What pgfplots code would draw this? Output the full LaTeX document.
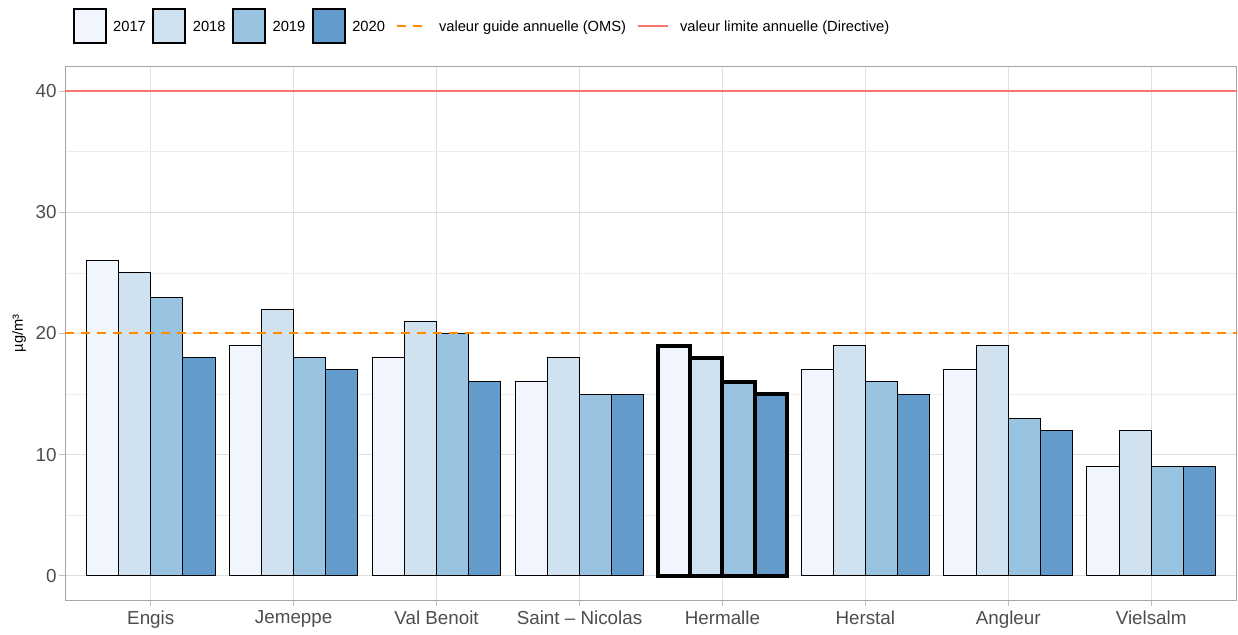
\documentclass[border=0pt]{standalone}
\usepackage{pgfplots}
\pgfplotsset{compat=1.18}
\usepackage{fontspec}
\setmainfont{Liberation Sans}
\definecolor{c17}{HTML}{F1F5FD}
\definecolor{c18}{HTML}{D0E2EF}
\definecolor{c19}{HTML}{98C4E2}
\definecolor{c20}{HTML}{639BCA}
\definecolor{guide}{HTML}{FF8C00}
\definecolor{limit}{HTML}{F8766D}
\definecolor{tickgray}{HTML}{4D4D4D}
\begin{document}
\begin{tikzpicture}
\useasboundingbox (-65pt,-34pt) rectangle (1173pt,600pt);
\begin{axis}[
  at={(0,0)}, anchor=south west,
  scale only axis, width=1172pt, height=533pt,
  xmin=0.4, xmax=8.6, ymin=-2, ymax=42,
  xtick={1,...,8},
  xticklabels={Engis, Jemeppe, Val Benoit, Saint – Nicolas, Hermalle, Herstal, Angleur, Vielsalm},
  ytick={0,10,20,30,40},
  minor ytick={5,15,25,35},
  minor tick length=0pt,
  major tick length=6pt,
  tick align=outside,
  tick pos=left,
  tick style={color=black!25, line width=1pt},
  xmajorgrids, ymajorgrids, yminorgrids,
  major grid style={color=black!12, line width=1pt},
  minor grid style={color=black!7, line width=0.6pt},
  axis line style={color=black!35, line width=1pt},
  /pgf/number format/assume math mode=true,
  tick label style={font=\fontsize{18.8}{18.8}\selectfont, color=tickgray},
  xticklabel style={yshift=-1pt},
  yticklabel style={xshift=1pt},
  ylabel={µg/m³},
  every axis y label/.style={at={(axis description cs:-0.0392,0.5)}, rotate=90, anchor=center, font=\fontsize{14.7}{14.7}\selectfont},
  legend columns=-1,
  legend style={at={(axis description cs:0,1)}, anchor=west, xshift=1pt, yshift=41pt,
    draw=none, fill=none, inner sep=0pt, font=\fontsize{14.7}{14.7}\selectfont,
    nodes={inner xsep=0pt, inner ysep=2pt, text depth=0pt},
    /tikz/every even column/.append style={column sep=0pt},
    /tikz/every odd column/.append style={column sep=0pt}},
  legend cell align=left,
]
\pgfplotsset{barleg/.style={legend image code/.code={\path (-6pt,0pt) (40pt,0pt); \draw[##1, line width=2pt, draw=black] (1pt,-17pt) rectangle (33pt,17pt);}}}
\pgfplotsset{lineleg/.style={legend image code/.code={\path (-11pt,0pt) (41pt,0pt); \draw[##1] (0pt,0pt) -- (30pt,0pt);}}}

\addplot[ybar, bar width=0.225, bar shift=-0.3375, fill=c17, draw=black, line width=1pt, barleg] coordinates {(1,26)(2,19)(3,18)(4,16)(5,19)(6,17)(7,17)(8,9)};
\addlegendentry{2017}
\addplot[ybar, bar width=0.225, bar shift=-0.1125, fill=c18, draw=black, line width=1pt, barleg] coordinates {(1,25)(2,22)(3,21)(4,18)(5,18)(6,19)(7,19)(8,12)};
\addlegendentry{2018}
\addplot[ybar, bar width=0.225, bar shift=0.1125, fill=c19, draw=black, line width=1pt, barleg] coordinates {(1,23)(2,18)(3,20)(4,15)(5,16)(6,16)(7,13)(8,9)};
\addlegendentry{2019}
\addplot[ybar, bar width=0.225, bar shift=0.3375, fill=c20, draw=black, line width=1pt, barleg] coordinates {(1,18)(2,17)(3,16)(4,15)(5,15)(6,15)(7,12)(8,9)};
\addlegendentry{2020}
\addplot[guide, dashed, dash pattern=on 9pt off 7pt, line width=2pt, lineleg] coordinates {(0.4,20)(8.6,20)};
\addlegendentry{valeur guide annuelle (OMS)}
\addplot[limit, line width=2pt, lineleg] coordinates {(0.4,40)(8.6,40)};
\addlegendentry{valeur limite annuelle (Directive)}

\addplot[ybar, bar width=0.225, bar shift=-0.3375, fill=c17, draw=black, line width=4pt, forget plot] coordinates {(5,19)};
\addplot[ybar, bar width=0.225, bar shift=-0.1125, fill=c18, draw=black, line width=4pt, forget plot] coordinates {(5,18)};
\addplot[ybar, bar width=0.225, bar shift=0.1125, fill=c19, draw=black, line width=4pt, forget plot] coordinates {(5,16)};
\addplot[ybar, bar width=0.225, bar shift=0.3375, fill=c20, draw=black, line width=4pt, forget plot] coordinates {(5,15)};
\end{axis}
\end{tikzpicture}
\end{document}
